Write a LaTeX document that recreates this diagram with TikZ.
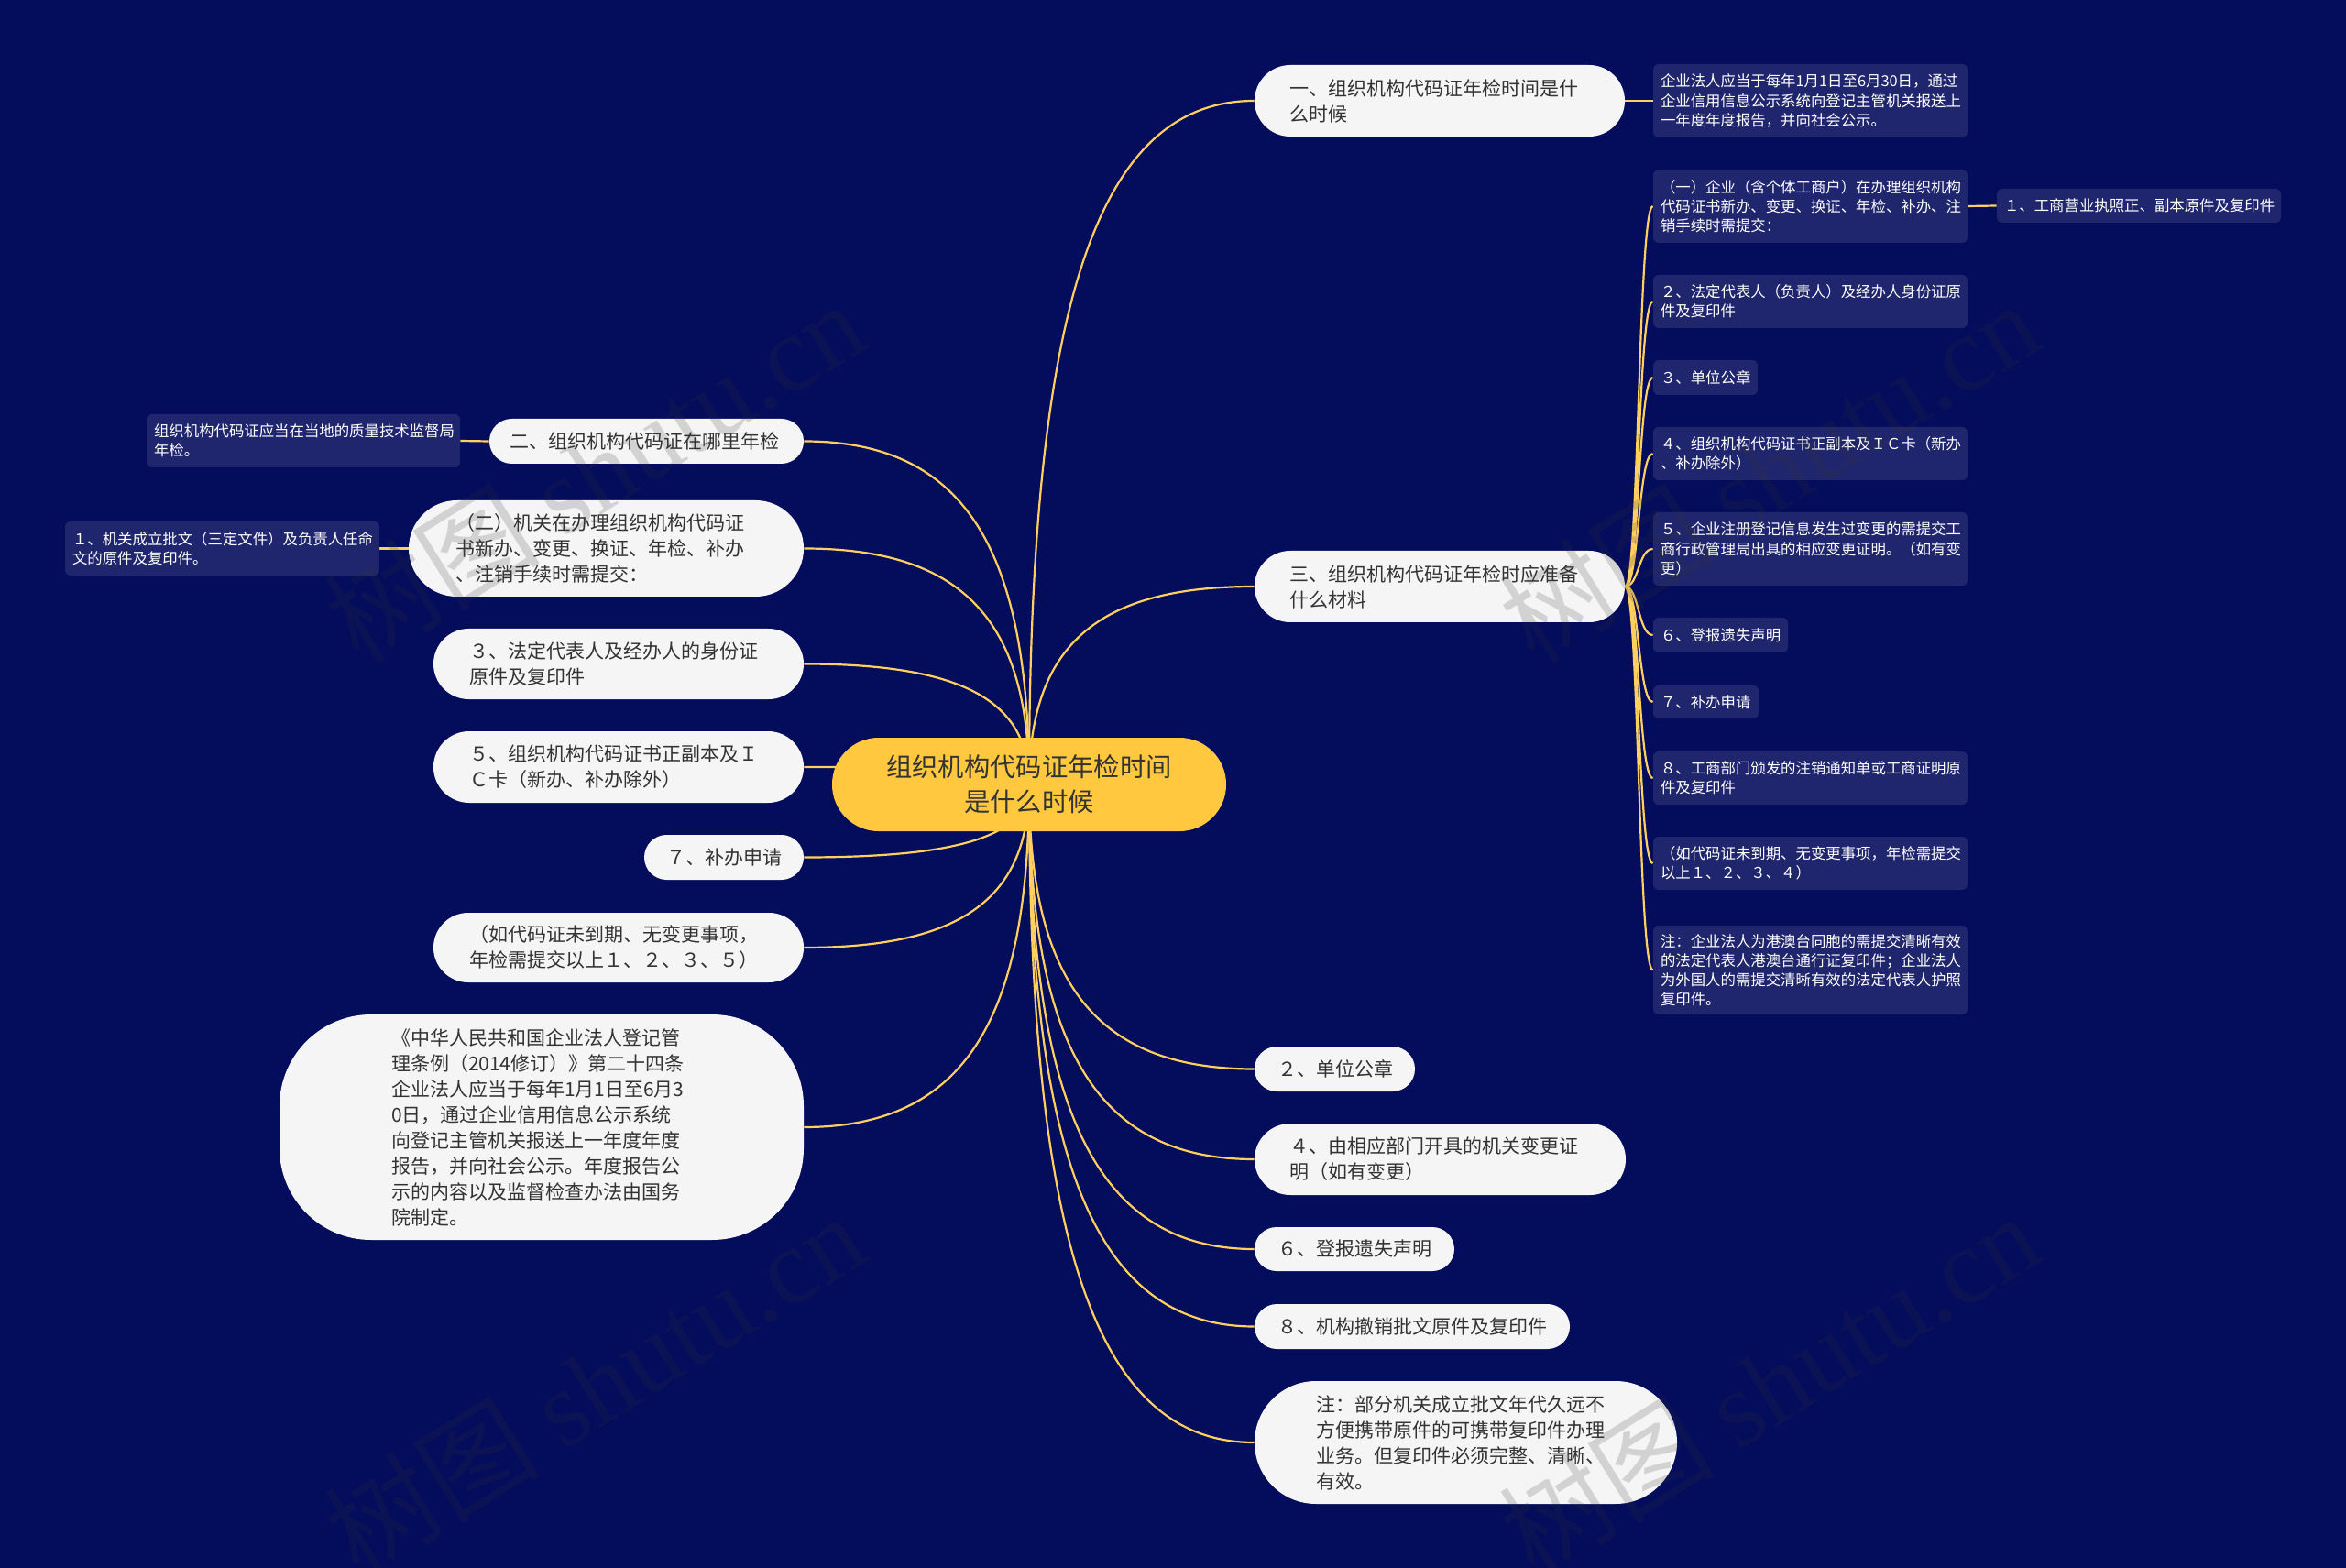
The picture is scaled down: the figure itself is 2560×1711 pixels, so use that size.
\documentclass[tikz,border=0pt]{standalone}
\usepackage{fontspec}
\setmainfont{Noto Sans CJK SC}
\newfontfamily\wmlatin{Liberation Serif}
\usetikzlibrary{calc,backgrounds}
\definecolor{pagecol}{HTML}{040C5C}
\definecolor{rootcol}{HTML}{FFC83F}
\definecolor{branchcol}{HTML}{F5F5F5}
\definecolor{detailcol}{HTML}{20266E}
\definecolor{linecol}{HTML}{FFD060}
\definecolor{inkcol}{HTML}{333333}
\tikzstyle{rootnode}=[fill=rootcol,text=inkcol,align=center,inner sep=0pt,font=\fontsize{14.15}{19}\selectfont]
\tikzstyle{branch}=[fill=branchcol,text=inkcol,align=left,inner sep=0pt,font=\fontsize{10.5}{14}\selectfont]
\tikzstyle{detail}=[fill=detailcol,text=white,align=left,inner sep=0pt,rounded corners=3pt,font=\fontsize{8.2}{10.6}\selectfont]
\tikzstyle{edge} = [draw,line width=1.1pt,linecol]
\tikzstyle{sitemark}=[text=black!80,text opacity=0.18,rotate=32,inner sep=0pt,font=\fontsize{59}{64}\selectfont]

\begin{document}
\begin{tikzpicture}[x=0.5pt,y=-0.5pt]
    \useasboundingbox (0,0) rectangle (2560,1711);
    \begin{scope}[on background layer]
        \fill[pagecol] (0,0) rectangle (2560,1711);
    \end{scope}

    \node[rootnode, minimum width=215pt, minimum height=51pt, rounded corners=25.4pt] (root) at (1123,856) {组织机构代码证年检时间\\是什么时候};

    % white branches: left, top, right, bottom, name, text inset, text
    \foreach \xa/\ya/\xb/\yb/\name/\ins/\txt in {
        {1369/71/1773/149/whentime/38/一、组织机构代码证年检时间是什\\么时候},
        {1369/601/1773/679/material/38/三、组织机构代码证年检时应准备\\什么材料},
        {1369/1142/1544/1191/seal/25/２、单位公章},
        {1369/1226/1774/1304/change/38/４、由相应部门开具的机关变更证\\明（如有变更）},
        {1369/1339/1587/1387/notice/25/６、登报遗失声明},
        {1369/1423/1713/1472/approval/25/８、机构撤销批文原件及复印件},
        {1369/1507/1830/1641/remark/67/注：部分机关成立批文年代久远不\\方便携带原件的可携带复印件办理\\业务。但复印件必须完整、清晰、\\有效。},
        {534/457/877/506/where/22/二、组织机构代码证在哪里年检},
        {446/546/877/651/organ/51/（二）机关在办理组织机构代码证\\书新办、变更、换证、年检、补办\\、注销手续时需提交：},
        {473/686/877/763/legal/39/３、法定代表人及经办人的身份证\\原件及复印件},
        {473/798/877/876/copies/39/５、组织机构代码证书正副本及Ｉ\\Ｃ卡（新办、补办除外）},
        {703/911/877/960/reissue/24/７、补办申请},
        {473/996/877/1072/nochange/39/（如代码证未到期、无变更事项，\\年检需提交以上１、２、３、５）},
        {305/1107/877/1353/statute/122/《中华人民共和国企业法人登记管\\理条例（2014修订）》第二十四条\\企业法人应当于每年1月1日至6月3\\0日，通过企业信用信息公示系统\\向登记主管机关报送上一年度年度\\报告，并向社会公示。年度报告公\\示的内容以及监督检查办法由国务\\院制定。}}
    {
        \pgfmathsetmacro{\rad}{min((\yb-\ya)/2,100)*0.5}
        \node[branch, minimum width=(\xb-\xa)*0.5pt, minimum height=(\yb-\ya)*0.5pt, text width=(\xb-\xa-2*\ins)*0.5pt, rounded corners=\rad pt] (\name) at ({(\xa+\xb)/2},{(\ya+\yb)/2}) {\txt};
    }

    % dark detail boxes
    \foreach \xa/\ya/\xb/\yb/\name/\txt in {
        {1804/70/2147/150/report/企业法人应当于每年1月1日至6月30日，通过\\企业信用信息公示系统向登记主管机关报送上\\一年度年度报告，并向社会公示。},
        {1804/185/2147/265/mata/（一）企业（含个体工商户）在办理组织机构\\代码证书新办、变更、换证、年检、补办、注\\销手续时需提交：},
        {2179/206/2489/243/matachild/１、工商营业执照正、副本原件及复印件},
        {1804/300/2147/358/matb/２、法定代表人（负责人）及经办人身份证原\\件及复印件},
        {1804/393/1918/431/matc/３、单位公章},
        {1804/466/2147/524/matd/４、组织机构代码证书正副本及ＩＣ卡（新办\\、补办除外）},
        {1804/559/2147/639/mate/５、企业注册登记信息发生过变更的需提交工\\商行政管理局出具的相应变更证明。（如有变\\更）},
        {1804/674/1951/712/matf/６、登报遗失声明},
        {1804/748/1919/784/matg/７、补办申请},
        {1804/820/2147/878/math/８、工商部门颁发的注销通知单或工商证明原\\件及复印件},
        {1804/913/2147/971/mati/（如代码证未到期、无变更事项，年检需提交\\以上１、２、３、４）},
        {1804/1010/2147/1107/matj/注：企业法人为港澳台同胞的需提交清晰有效\\的法定代表人港澳台通行证复印件；企业法人\\为外国人的需提交清晰有效的法定代表人护照\\复印件。},
        {160/452/502/510/wherenote/组织机构代码证应当在当地的质量技术监督局\\年检。},
        {71/569/414/628/organchild/１、机关成立批文（三定文件）及负责人任命\\文的原件及复印件。}}
    {
        \node[detail, minimum width=(\xb-\xa)*0.5pt, minimum height=(\yb-\ya)*0.5pt, text width=(\xb-\xa-16)*0.5pt] (\name) at ({(\xa+\xb)/2},{(\ya+\yb)/2}) {\txt};
    }

    \begin{scope}[on background layer]
        \foreach \dest/\side in {whentime/west, material/west, seal/west, change/west, notice/west, approval/west, remark/west, where/east, organ/east, legal/east, copies/east, reissue/east, nochange/east, statute/east}
            \path[edge] (root.center) .. controls ($(root.center)!0.7!(root.center |- \dest.\side)$) and ($(\dest.\side)!0.7!(root.center |- \dest.\side)$) .. (\dest.\side);

        \foreach \dest in {mata, matb, matc, matd, mate, matf, matg, math, mati, matj}
            \path[edge] (material.east) .. controls ($(material.east)+(15,0)$) and ($(\dest.west)+(-16,0)$) .. (\dest.west);

        \foreach \source/ \dest in {whentime.east/report.west, mata.east/matachild.west, where.west/wherenote.east, organ.west/organchild.east}
            \path[edge] (\source) -- (\dest);
    \end{scope}

    % site watermark
    \foreach \pos/\name in {{(648,514)/marka}, {(1930,514)/markb}, {(648,1510)/markc}, {(1930,1510)/markd}}
        \node[sitemark] (\name) at \pos {树图 {\wmlatin shutu.cn}};

\end{tikzpicture}
\end{document}
